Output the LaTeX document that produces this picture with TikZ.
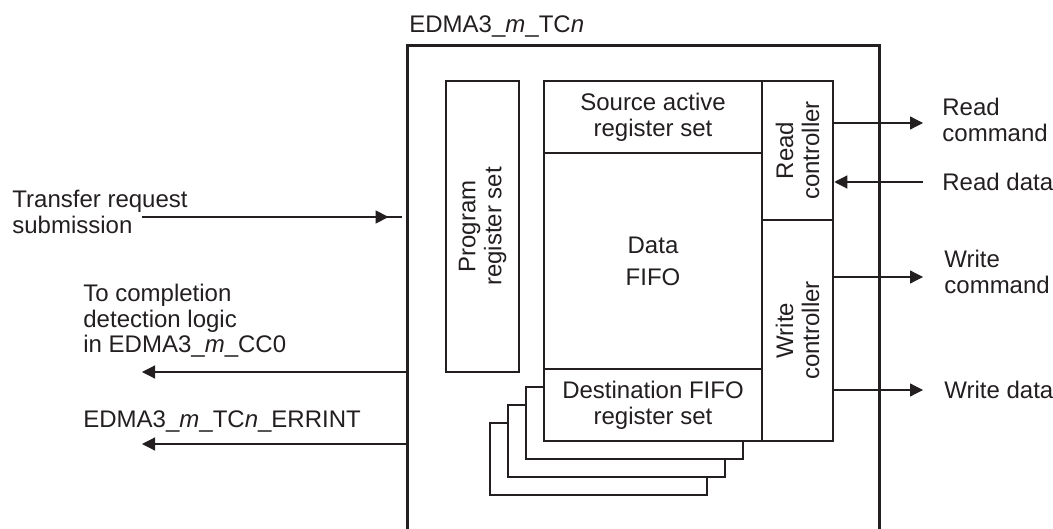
\documentclass[tikz,border=0pt]{standalone}
\usepackage{fontspec}
\setmainfont{Liberation Sans}
\usetikzlibrary{arrows.meta,positioning,calc,fit}
\definecolor{ink}{HTML}{231F20}
\newcommand{\itm}{\textit{m}}
\newcommand{\itn}{\textit{n}}
\tikzset{
  tcframe/.style={draw=ink, line width=1.7pt},
  regbox/.style={draw=ink, line width=1.25pt, fill=white, inner sep=0pt},
  boxtxt/.style={text=ink, font=\fontsize{12}{13}\selectfont, align=center, inner sep=0pt},
  lbltxt/.style={text=ink, font=\fontsize{12}{12.8}\selectfont, align=left, inner sep=0pt},
  wire/.style={line width=0.6pt, color=ink},
  arr/.style={-{Triangle[length=6.5pt,width=6.5pt]}, line width=0.6pt, color=ink}}

\begin{document}
\begin{tikzpicture}[x=0.5pt, y=-0.5pt]
  \useasboundingbox (0,0) rectangle (1053,529);
  % transfer controller frame, open at the bottom
  \node[inner sep=0pt, fit={(408,46) (879,529)}] (tc) {};
  \draw[tcframe] (tc.south west) |- (tc.north east) -- (tc.south east);
  \node[lbltxt, anchor=base west] (tctitle) at (409,33) {EDMA3\_\itm\_TC\itn};

  \node[regbox, fit={(446,81) (519,372)}] (prog) {};
  \node[regbox, fit={(544,81) (762,153)}] (src) {};
  \node[regbox, fit={(544,153) (762,369)}] (fifo) {};
  \foreach \k in {3,2,1}
    \node[regbox, fit={(544-18*\k,369+18*\k) (761-18*\k,441+18*\k)}] (stack\k) {};
  \node[regbox, fit={(544,369) (762,441)}] (dst) {};
  \node[regbox, fit={(762,81) (833,220)}] (rdctl) {};
  \node[regbox, fit={(762,220) (833,441)}] (wrctl) {};

  \node[boxtxt, rotate=90] at (prog) {Program\\register set};
  \node[boxtxt] at (src) {Source active\\register set};
  \node[boxtxt] at (fifo) {Data\\[3pt]FIFO};
  \node[boxtxt] at (dst) {Destination FIFO\\register set};
  \node[boxtxt, rotate=90] at (rdctl) {Read\\controller};
  \node[boxtxt, rotate=90] at (wrctl) {Write\\controller};

  % memory side
  \coordinate (rcmd) at (923,123);
  \coordinate (rdat) at (923,182);
  \coordinate (wcmd) at (923,277);
  \coordinate (wdat) at (923,390);
  \draw[arr] (rdctl.east |- rcmd) -- (rcmd);
  \draw[arr] (rdat) -- (rdctl.east |- rdat);
  \draw[arr] (wrctl.east |- wcmd) -- (wcmd);
  \draw[arr] (wrctl.east |- wdat) -- (wdat);
  \node[lbltxt, right=9.5pt of rcmd, yshift=1.5pt] (rcmdlbl) {Read\\command};
  \node[lbltxt, right=9.5pt of rdat] (rdatlbl) {Read data};
  \node[lbltxt, right=10.5pt of wcmd, yshift=2.5pt] (wcmdlbl) {Write\\command};
  \node[lbltxt, right=10.5pt of wdat] (wdatlbl) {Write data};

  % channel controller side
  \coordinate (treq) at (142,217);
  \coordinate (cmpl) at (142,372);
  \coordinate (errint) at (142,444);
  \draw[wire] (treq) -- ([xshift=-3pt]tc.west |- treq);
  \draw[arr] (treq) -- ([xshift=-9.5pt]tc.west |- treq);
  \draw[arr] (tc.west |- cmpl) -- (cmpl);
  \draw[arr] (tc.west |- errint) -- (errint);
  \node[lbltxt, anchor=west] (treqlbl) at (12,212) {Transfer request\\submission};
  \node[lbltxt, anchor=west] (cmpllbl) at (83,321) {To completion\\detection logic\\in EDMA3\_\itm\_CC0};
  \node[lbltxt, anchor=west] (errintlbl) at (83,422) {EDMA3\_\itm\_TC\itn\_ERRINT};
\end{tikzpicture}
\end{document}
